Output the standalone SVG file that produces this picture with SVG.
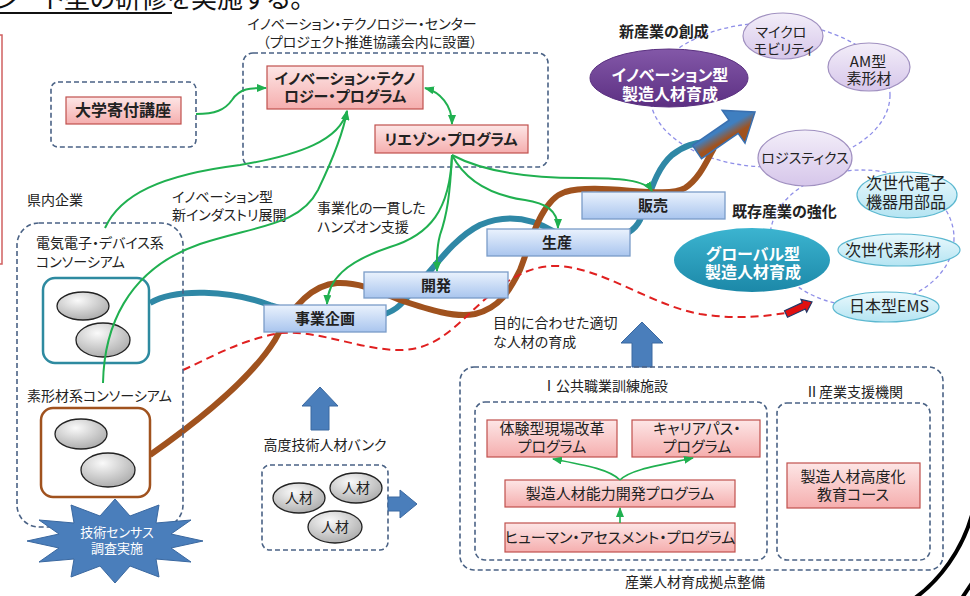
<svg xmlns="http://www.w3.org/2000/svg" width="970" height="596" viewBox="0 0 970 596">
<defs>
<style>
text{font-family:"Noto Sans CJK JP","Noto Sans",sans-serif;font-feature-settings:"palt";fill:#222;font-size:14px}
.b{font-weight:bold}
.m{text-anchor:middle}
.w{fill:#fff}
.dbox{fill:none;stroke:#4a6285;stroke-width:1.6;stroke-dasharray:5,3}
.pink{fill:url(#pinkG);stroke:#c0504d;stroke-width:1.2}
.stage{fill:url(#blueG);stroke:#7a9cc8;stroke-width:1.3}
.lav{fill:url(#lavG);stroke:#a090c0;stroke-width:1.2}
.cyan{fill:url(#cyanG);stroke:#5cb8d0;stroke-width:1.2}
.grey{fill:url(#greyG);stroke:#222;stroke-width:1.3}
.ring{fill:none;stroke:#8f8fe8;stroke-width:1.3;stroke-dasharray:4,3}
.g{fill:none;stroke:#20b050;stroke-width:2;marker-end:url(#ga)}
.blk{fill:#4a7ebb;stroke:#3a68a0;stroke-width:1}
</style>
<linearGradient id="pinkG" x1="0" y1="0" x2="0" y2="1"><stop offset="0" stop-color="#fde6e6"/><stop offset="1" stop-color="#f5aeae"/></linearGradient>
<linearGradient id="blueG" x1="0" y1="0" x2="0" y2="1"><stop offset="0" stop-color="#eaf2fd"/><stop offset="1" stop-color="#a9c5ee"/></linearGradient>
<linearGradient id="lavG" x1="0" y1="0" x2="0" y2="1"><stop offset="0" stop-color="#f3eef9"/><stop offset="1" stop-color="#d6c6ea"/></linearGradient>
<linearGradient id="cyanG" x1="0" y1="0" x2="0" y2="1"><stop offset="0" stop-color="#eaf9fd"/><stop offset="1" stop-color="#b4e4f2"/></linearGradient>
<linearGradient id="purG" x1="0" y1="0" x2="0" y2="1"><stop offset="0" stop-color="#8358a8"/><stop offset="1" stop-color="#5c2f82"/></linearGradient>
<linearGradient id="tealG" x1="0" y1="0" x2="0" y2="1"><stop offset="0" stop-color="#3cb4d0"/><stop offset="1" stop-color="#1c88a8"/></linearGradient>
<radialGradient id="greyG" cx="0.4" cy="0.3" r="0.8"><stop offset="0" stop-color="#fafafa"/><stop offset="1" stop-color="#a4a4a4"/></radialGradient>
<linearGradient id="arrG" x1="0.2" y1="0.1" x2="0.8" y2="0.9"><stop offset="0.4" stop-color="#3f7fc0"/><stop offset="0.6" stop-color="#a0521e"/></linearGradient>
<marker id="ga" markerUnits="userSpaceOnUse" markerWidth="10" markerHeight="8" refX="9" refY="4" orient="auto-start-reverse"><path d="M0,0 L10,4 L0,8 z" fill="#20b050"/></marker>
</defs>

<rect width="970" height="596" fill="#fff"/>

<g id="title-fragment">
<text x="-4" y="8" style="font-size:26px;fill:#111">ン<tspan x="44">ト型の研修を実施する。</tspan></text>
<rect x="0" y="12" width="172" height="2" fill="#111"/>
</g>
<g id="left-edge"><rect x="-6" y="35" width="8" height="229" fill="none" stroke="#d06060" stroke-width="1.5"/></g>

<g id="rings">
<ellipse class="ring" cx="770" cy="95" rx="120" ry="72"/>
<ellipse class="ring" cx="862" cy="238" rx="92" ry="68"/>
</g>

<g id="flows">
<path d="M150,303 C175,288 230,290 270,305 C320,322 380,325 400,305 C430,275 450,240 480,225 C510,212 535,220 555,232 C600,245 630,240 640,220 C650,195 655,170 672,155 C685,145 695,143 705,142" fill="none" stroke="#2f88a6" stroke-width="6"/>
<path d="M150,455 C200,420 250,380 275,340 C290,310 310,285 337,283 C360,282 380,292 400,300 C430,310 455,318 475,314 C500,308 510,290 520,270 C530,245 540,200 565,192 C600,182 665,200 685,188 C700,178 707,160 714,148" fill="none" stroke="#a0521e" stroke-width="6"/>
<path d="M183,370 C210,358 240,340 280,333 C320,330 360,350 400,350 C440,350 460,320 490,295 C510,278 530,266 555,266 C600,266 650,305 700,314 C740,320 765,316 786,313" fill="none" stroke="#e02020" stroke-width="2" stroke-dasharray="8,5"/>
<polygon points="692.5,145.4 729.1,120.2 722.2,110.4 755,112 745,143.2 738.1,133.4 701.5,158.6" fill="url(#arrG)" stroke="#3a70b0" stroke-width="1.5"/>
<polygon points="784.5,310.8 802.3,302.6 800.9,299.4 812,302 806.7,312.2 805.3,309 787.5,317.2" fill="#e01010" stroke="#1f3a6a" stroke-width="1.2"/>
</g>

<g id="itc">
<text class="m" x="362" y="29">イノベーション・テクノロジー・センター</text>
<text class="m" x="370" y="47">（プロジェクト推進協議会内に設置）</text>
<rect class="dbox" x="243" y="53" width="305" height="114" rx="10"/>
</g>
<g id="itp"><rect class="pink" x="267" y="66" width="156" height="43"/>
<text class="b m" x="345" y="84" style="font-size:15px">イノベーション・テクノ</text>
<text class="b m" x="345" y="102" style="font-size:15px">ロジー・プログラム</text></g>
<g id="liaison"><rect class="pink" x="375" y="125" width="153" height="28"/>
<text class="b m" x="451" y="145" style="font-size:15px">リエゾン・プログラム</text></g>

<g id="univ"><rect class="dbox" x="51" y="82" width="145" height="65" rx="7"/>
<rect class="pink" x="66" y="97" width="115" height="27"/>
<text class="b m" x="123" y="116" style="font-size:16px">大学寄付講座</text></g>

<g id="new-industry">
<text class="b" x="619" y="37" style="font-size:15px">新産業の創成</text>
<ellipse cx="669" cy="78" rx="79" ry="29" fill="url(#purG)" stroke="#5a3080" stroke-width="1"/>
<text class="b m w" x="670" y="81" style="font-size:16px">イノベーション型</text>
<text class="b m w" x="670" y="100" style="font-size:16px">製造人材育成</text>
</g>
<g id="micro"><ellipse class="lav" cx="783" cy="36" rx="40" ry="23"/>
<text class="m" x="781" y="37">マイクロ</text><text class="m" x="784" y="54">モビリティ</text></g>
<g id="am"><ellipse class="lav" cx="869" cy="67" rx="41" ry="24"/>
<text class="m" x="868" y="67" style="font-size:15px">AM型</text><text class="m" x="869" y="84" style="font-size:15px">素形材</text></g>
<g id="logi"><ellipse class="lav" cx="805" cy="158" rx="47" ry="28"/>
<text class="m" x="805" y="163">ロジスティクス</text></g>

<g id="existing">
<text class="b" x="732" y="217" style="font-size:15px">既存産業の強化</text>
<ellipse cx="752" cy="260" rx="78" ry="32" fill="url(#tealG)"/>
<text class="b m w" x="753" y="260" style="font-size:16px">グローバル型</text>
<text class="b m w" x="753" y="278" style="font-size:16px">製造人材育成</text>
</g>
<g id="elec-parts"><ellipse class="cyan" cx="907" cy="195" rx="50" ry="23"/>
<text class="m" x="906" y="189" style="font-size:16px">次世代電子</text><text class="m" x="906" y="208" style="font-size:16px">機器用部品</text></g>
<g id="next-mat"><ellipse class="cyan" cx="899" cy="250" rx="61" ry="16"/>
<text class="m" x="893" y="256" style="font-size:16px">次世代素形材</text></g>
<g id="ems"><ellipse class="cyan" cx="886" cy="307" rx="53" ry="15"/>
<text class="m" x="889" y="312" style="font-size:16px">日本型EMS</text></g>

<g id="stage-sales"><rect class="stage" x="582" y="192" width="143" height="27"/><text class="b m" x="653" y="211" style="font-size:15px">販売</text></g>
<g id="stage-prod"><rect class="stage" x="487" y="229" width="143" height="27"/><text class="b m" x="557" y="248" style="font-size:15px">生産</text></g>
<g id="stage-dev"><rect class="stage" x="364" y="272" width="144" height="26"/><text class="b m" x="436" y="291" style="font-size:15px">開発</text></g>
<g id="stage-plan"><rect class="stage" x="264" y="305" width="122" height="27"/><text class="b m" x="325" y="324" style="font-size:15px">事業企画</text></g>

<g id="companies">
<text x="27" y="205">県内企業</text>
<rect class="dbox" x="17" y="223" width="166" height="304" rx="22"/>
<text x="36" y="248">電気電子・デバイス系</text>
<text x="36" y="267">コンソーシアム</text>
</g>
<g id="elec-cons"><rect x="43" y="278" width="106" height="85" rx="12" fill="#fff" stroke="#2e8aa0" stroke-width="2.5"/>
<ellipse class="grey" cx="83" cy="306" rx="26" ry="14"/><ellipse class="grey" cx="103" cy="340" rx="27" ry="17"/></g>
<g id="mat-cons"><text x="27" y="401">素形材系コンソーシアム</text>
<rect x="41" y="408" width="109" height="89" rx="12" fill="#fff" stroke="#a0521e" stroke-width="2.5"/>
<ellipse class="grey" cx="81" cy="434" rx="26" ry="15"/><ellipse class="grey" cx="108" cy="470" rx="27" ry="17"/></g>
<g id="census"><polygon points="203,541 171,534 191,520 156,523 159,505 130,516 115,499 100,516 71,505 74,523 39,520 59,534 27,541 59,548 39,562 74,559 71,577 100,566 115,583 130,566 159,577 156,559 191,562 171,548" fill="#4a7ebb" stroke="#3a68a0" stroke-width="1"/>
<text class="m w" x="117" y="537" style="font-size:13px">技術センサス</text>
<text class="m w" x="117" y="553" style="font-size:13px">調査実施</text></g>

<g id="hr-bank">
<polygon class="blk" points="320,387 338,406 329,406 329,430 311,430 311,406 302,406"/>
<text class="m" x="325" y="450">高度技術人材バンク</text>
<rect class="dbox" x="262" y="465" width="126" height="85" rx="8"/>
<ellipse class="grey" cx="299" cy="498" rx="26" ry="15"/><text class="m" x="299" y="503">人材</text>
<ellipse class="grey" cx="356" cy="488" rx="26" ry="15"/><text class="m" x="356" y="493">人材</text>
<ellipse class="grey" cx="335" cy="527" rx="27" ry="16"/><text class="m" x="335" y="532">人材</text>
<polygon class="blk" points="388,497 400,497 400,490 417,504 400,518 400,511 388,511"/>
</g>

<g id="labels">
<text x="172" y="202">イノベーション型</text>
<text x="172" y="220">新インダストリ展開</text>
<text x="317" y="213">事業化の一貫した</text>
<text x="317" y="232">ハンズオン支援</text>
<text x="493" y="328">目的に合わせた適切</text>
<text x="493" y="347">な人材の育成</text>
</g>

<g id="training">
<polygon class="blk" points="642,322 663,343 652,343 652,367 632,367 632,343 621,343"/>
<rect class="dbox" x="460" y="367" width="483" height="203" rx="14"/>
<text x="542" y="391">Ⅰ公共職業訓練施設</text>
<rect class="dbox" x="475" y="402" width="292" height="158" rx="10"/>
<text x="805" y="397">Ⅱ産業支援機関</text>
<rect class="dbox" x="777" y="403" width="153" height="157" rx="10"/>
<text class="m" x="695" y="587">産業人材育成拠点整備</text>
</g>
<g id="taiken"><rect class="pink" x="487" y="420" width="130" height="37"/>
<text class="m" x="552" y="434" style="font-size:15px">体験型現場改革</text><text class="m" x="552" y="452" style="font-size:15px">プログラム</text></g>
<g id="career"><rect class="pink" x="632" y="420" width="128" height="37"/>
<text class="m" x="697" y="434" style="font-size:15px">キャリアパス・</text><text class="m" x="697" y="452" style="font-size:15px">プログラム</text></g>
<g id="noryoku"><rect class="pink" x="505" y="480" width="230" height="27"/>
<text class="m" x="620" y="499" style="font-size:15px">製造人材能力開発プログラム</text></g>
<g id="human"><rect class="pink" x="505" y="523" width="230" height="29"/>
<text class="m" x="620" y="543" style="font-size:15px">ヒューマン・アセスメント・プログラム</text></g>
<g id="koudo"><rect class="pink" x="787" y="463" width="133" height="45"/>
<text class="m" x="853" y="482" style="font-size:15px">製造人材高度化</text><text class="m" x="853" y="500" style="font-size:15px">教育コース</text></g>

<g id="connectors">
<path class="g" d="M196,114 C215,114 225,110 232,100 C240,88 250,88 266,88"/>
<path class="g" d="M425,88 C440,92 452,105 452,124" marker-start="url(#ga)"/>
<path class="g" d="M105,228 C120,195 160,175 240,165 C300,155 340,140 347,111"/>
<path class="g" d="M103,383 C104,330 125,270 200,244 C260,225 300,225 318,190 C330,165 343,135 347,111"/>
<path class="g" d="M452,155 C450,210 430,235 390,247 C345,262 328,280 327,304"/>
<path class="g" d="M452,155 C450,195 447,215 440,235 C436,250 437,260 437,271"/>
<path class="g" d="M452,155 C465,180 490,195 525,200 C545,203 558,210 558,228"/>
<path class="g" d="M452,155 C480,170 520,178 580,178 C620,178 645,180 652,191"/>
<path class="g" d="M620,480 C610,470 590,466 553,459" style="stroke-width:1.6"/>
<path class="g" d="M620,480 C630,470 655,466 693,458" style="stroke-width:1.6"/>
<path class="g" d="M620,523 L620,508" style="stroke-width:1.6"/>
</g>

<g id="corner">
<path d="M915,598 C940,580 962,550 972,515" fill="none" stroke="#000" stroke-width="4"/>
<path d="M962,598 L972,583" fill="none" stroke="#000" stroke-width="4"/>
</g>
</svg>
